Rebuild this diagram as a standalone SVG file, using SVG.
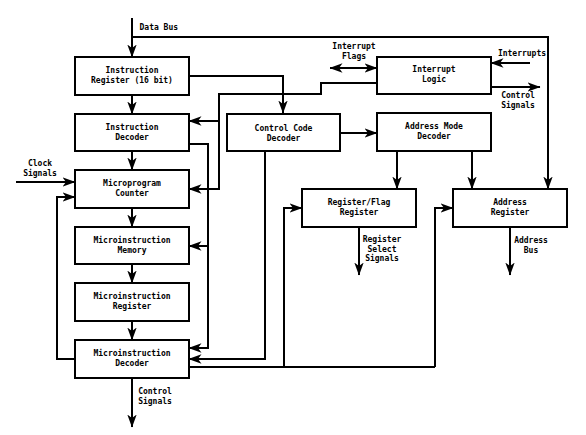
<svg xmlns="http://www.w3.org/2000/svg" width="586" height="435" viewBox="0 0 586 435">
<defs>
<marker id="ah" markerUnits="userSpaceOnUse" markerWidth="13" markerHeight="10" viewBox="0 0 13 10" refX="12.5" refY="5" orient="auto-start-reverse">
<path d="M0,0.3 L13,5 L0,9.7 L3.5,5 z" fill="#000"/>
</marker>
<style>
.box{fill:#fff;stroke:#000;stroke-width:2}
.t{font-family:"DejaVu Sans Mono","Liberation Mono",monospace;font-weight:bold;font-size:8px;fill:#000;text-anchor:middle}
.l{font-family:"DejaVu Sans Mono","Liberation Mono",monospace;font-weight:bold;font-size:8px;fill:#000}
.c{fill:none;stroke:#000;stroke-width:2}
.a{fill:none;stroke:#000;stroke-width:2;marker-end:url(#ah)}
</style>
</defs>
<rect width="586" height="435" fill="#fff"/>
<g id="connectors">
<path class="a" d="M132,18 V57"/>
<path class="a" d="M132,37 H548 V189"/>
<path class="a" d="M189,76 H283 V113"/>
<path class="a" d="M132,95 V114"/>
<path class="a" d="M132,151 V170"/>
<path class="a" d="M132,208 V227"/>
<path class="a" d="M132,264 V283"/>
<path class="a" d="M132,321 V340"/>
<path class="a" d="M132,378 V427"/>
<path class="a" d="M377,83 H321 V94 H219 V189 H189"/>
<path class="a" d="M219,121 H189"/>
<path class="a" d="M189,144 H208 V348 H189"/>
<path class="a" d="M208,246 H189"/>
<path class="a" d="M265,151 V359 H189"/>
<path class="a" d="M340,133 H377"/>
<path class="a" d="M397,151 V189"/>
<path class="a" d="M472,151 V189"/>
<path class="c" d="M189,367 H435"/>
<path class="a" d="M284,367 V208 H302"/>
<path class="a" d="M435,367 V208 H453"/>
<path class="a" d="M359,227 V275"/>
<path class="a" d="M510,227 V275"/>
<path class="a" d="M75,359 H57 V197 H75"/>
<path class="a" d="M16,182 H75"/>
<path class="a" d="M330,68 H377" marker-start="url(#ah)"/>
<path class="a" d="M530,63 H491"/>
<path class="a" d="M491,87 H540"/>
</g>
<g id="labels">
<text class="l" x="139.5" y="29.5">Data Bus</text>
<text class="t" x="354" y="49">Interrupt</text>
<text class="t" x="354" y="59">Flags</text>
<text class="t" x="522" y="56">Interrupts</text>
<text class="t" x="518" y="98">Control</text>
<text class="t" x="518" y="107.5">Signals</text>
<text class="t" x="40" y="166">Clock</text>
<text class="t" x="40" y="176">Signals</text>
<text class="t" x="382" y="242">Register</text>
<text class="t" x="382" y="251.5">Select</text>
<text class="t" x="382" y="261">Signals</text>
<text class="t" x="531" y="242.5">Address</text>
<text class="t" x="531" y="252.5">Bus</text>
<text class="t" x="155" y="393.5">Control</text>
<text class="t" x="155" y="403.5">Signals</text>
</g>
<g id="ir"><rect class="box" x="75" y="57" width="114" height="38"/><text class="t" x="132" y="73">Instruction</text><text class="t" x="132" y="83">Register (16 bit)</text></g>
<g id="id"><rect class="box" x="75" y="114" width="114" height="37"/><text class="t" x="132" y="129.5">Instruction</text><text class="t" x="132" y="139.5">Decoder</text></g>
<g id="mpc"><rect class="box" x="75" y="170" width="114" height="38"/><text class="t" x="132" y="186">Microprogram</text><text class="t" x="132" y="196">Counter</text></g>
<g id="mm"><rect class="box" x="75" y="227" width="114" height="37"/><text class="t" x="132" y="242.5">Microinstruction</text><text class="t" x="132" y="252.5">Memory</text></g>
<g id="mr"><rect class="box" x="75" y="283" width="114" height="38"/><text class="t" x="132" y="299">Microinstruction</text><text class="t" x="132" y="309">Register</text></g>
<g id="md"><rect class="box" x="75" y="340" width="114" height="38"/><text class="t" x="132" y="355.5">Microinstruction</text><text class="t" x="132" y="365.5">Decoder</text></g>
<g id="ccd"><rect class="box" x="227" y="114" width="113" height="37"/><text class="t" x="283.5" y="130.5">Control Code</text><text class="t" x="283.5" y="140.5">Decoder</text></g>
<g id="il"><rect class="box" x="377" y="57" width="114" height="37"/><text class="t" x="434" y="72">Interrupt</text><text class="t" x="434" y="82">Logic</text></g>
<g id="amd"><rect class="box" x="377" y="113" width="114" height="38"/><text class="t" x="434" y="129">Address Mode</text><text class="t" x="434" y="139">Decoder</text></g>
<g id="rfr"><rect class="box" x="302" y="189" width="114" height="38"/><text class="t" x="359" y="205">Register/Flag</text><text class="t" x="359" y="215">Register</text></g>
<g id="ar"><rect class="box" x="453" y="189" width="114" height="38"/><text class="t" x="510" y="205">Address</text><text class="t" x="510" y="215">Register</text></g>
</svg>
